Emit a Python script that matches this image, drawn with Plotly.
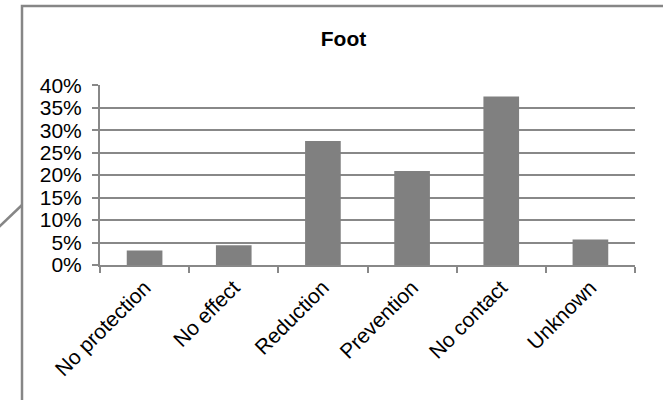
import plotly.graph_objects as go

# Share of outcomes for the "Foot" group
categories = ["No protection", "No effect", "Reduction", "Prevention", "No contact", "Unknown"]
shares = [0.032, 0.044, 0.276, 0.209, 0.375, 0.057]
y_ticks = [0.0, 0.05, 0.10, 0.15, 0.20, 0.25, 0.30, 0.35, 0.40]
y_tick_labels = ["0%", "5%", "10%", "15%", "20%", "25%", "30%", "35%", "40%"]

W, H = 663, 400
ML, MR, MT, MB = 100, 28, 85, 135
PW, PH = W - ML - MR, H - MT - MB

FONT = "Liberation Sans, Arial, sans-serif"
GRID = "#888888"


def px_x(x):
    return (x - ML) / PW


def px_y(y):
    return (H - MB - y) / PH


fig = go.Figure(
    go.Bar(
        x=categories,
        y=shares,
        marker=dict(color="#808080", line=dict(width=0)),
        hoverinfo="x+y",
    )
)

fig.update_layout(
    width=W,
    height=H,
    margin=dict(l=ML, r=MR, t=MT, b=MB),
    paper_bgcolor="white",
    plot_bgcolor="white",
    bargap=0.6,
    showlegend=False,
    font=dict(family=FONT, size=21, color="black"),
    title=dict(
        text="<b>Foot</b>",
        font=dict(family=FONT, size=21, color="black"),
        x=px_x(343.5),
        xref="paper",
        xanchor="center",
        y=1 - 39 / H,
        yref="container",
        yanchor="middle",
    ),
    xaxis=dict(
        type="category",
        showgrid=False,
        showline=True,
        linecolor=GRID,
        linewidth=2,
        ticks="outside",
        tickson="boundaries",
        ticklen=6,
        tickwidth=2,
        tickcolor=GRID,
        tickangle=-45,
        tickfont=dict(family=FONT, size=21, color="black"),
    ),
    yaxis=dict(
        range=[0, 0.4005],
        tickvals=y_ticks,
        ticktext=y_tick_labels,
        showgrid=True,
        gridcolor=GRID,
        gridwidth=2,
        zeroline=False,
        showline=True,
        linecolor=GRID,
        linewidth=2,
        ticks="outside",
        ticklen=6,
        tickwidth=2,
        tickcolor=GRID,
        ticklabelstandoff=6,
        tickfont=dict(family=FONT, size=21, color="black"),
    ),
    shapes=[
        # chart frame
        dict(
            type="rect",
            xref="paper",
            yref="paper",
            x0=px_x(22),
            x1=px_x(700),
            y0=px_y(440),
            y1=px_y(6),
            line=dict(color="#868686", width=2.5),
            fillcolor="rgba(0,0,0,0)",
            layer="below",
        ),
        # connector line entering the frame on the left
        dict(
            type="line",
            xref="paper",
            yref="paper",
            x0=px_x(-2),
            y0=px_y(228),
            x1=px_x(22),
            y1=px_y(205),
            line=dict(color="#868686", width=2.5),
        ),
    ],
)

fig.write_html("out.html")
